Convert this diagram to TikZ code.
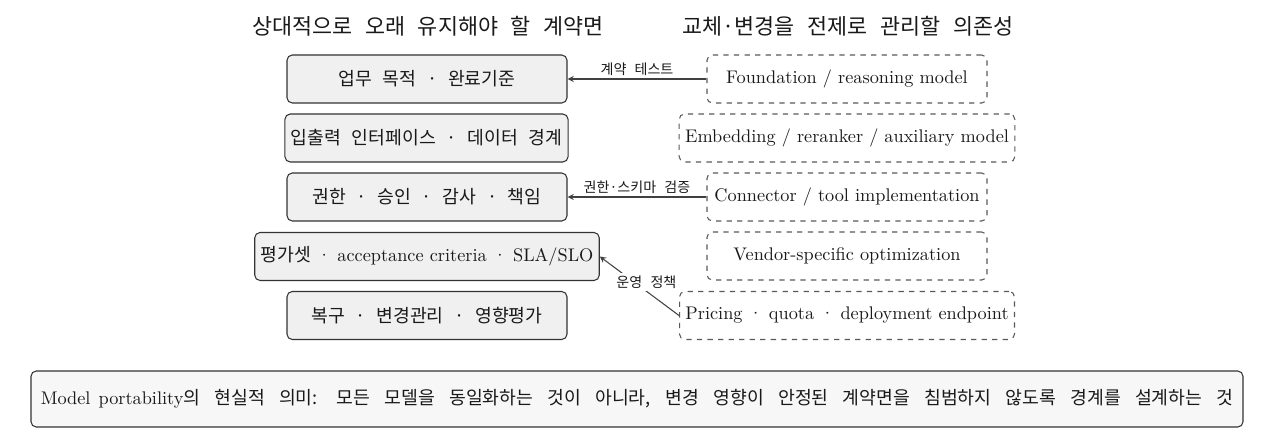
\documentclass[tikz,border=0pt]{standalone}
\usepackage{fontspec}
\newfontfamily\krfont[Scale=1.0,WordSpace=2.6]{Noto Sans CJK KR}
\newcommand{\kr}[1]{{\krfont #1}}
\usetikzlibrary{positioning}

\begin{document}
\begin{tikzpicture}[
    >=stealth,
    text=black!90,
    font=\fontsize{10.4}{12.5}\selectfont,
    stable/.style={draw=black!80, fill=black!6, rounded corners=3pt, minimum width=5.6cm, minimum height=0.96cm, line width=0.6pt},
    swapbox/.style={draw=black!65, dashed, rounded corners=3pt, minimum width=5.6cm, minimum height=0.96cm, line width=0.6pt},
    heading/.style={font=\fontsize{12.4}{15}\selectfont},
    link/.style={->, draw=black!75, line width=0.6pt},
    linklabel/.style={font=\fontsize{8}{9.5}\selectfont, inner sep=1.5pt, fill=white},
    summary/.style={draw=black!80, fill=black!3, rounded corners=3pt, minimum width=24.24cm, minimum height=1.12cm, line width=0.6pt}
  ]
  \useasboundingbox (0,0) rectangle (25.6,-8.78);

  % column headings
  \node[heading] (hdrL) at (8.56, -0.52) {\kr{상대적으로 오래 유지해야 할 계약면}};
  \node[heading] (hdrR) at (16.96, -0.52) {\kr{교체·변경을 전제로 관리할 의존성}};

  % stable contract surfaces
  \node[stable] (goal) at (8.54, -1.58) {\kr{업무 목적 · 완료기준}};
  \node[stable] (io) at (8.53, -2.76) {\kr{입출력 인터페이스 · 데이터 경계}};
  \node[stable] (auth) at (8.54, -3.94) {\kr{권한 · 승인 · 감사 · 책임}};
  \node[stable] (eval) at (8.54, -5.13) {\kr{평가셋} · acceptance criteria · SLA/SLO};
  \node[stable] (recov) at (8.54, -6.31) {\kr{복구 · 변경관리 · 영향평가}};

  % replaceable dependencies
  \node[swapbox] (found) at (16.94, -1.58) {Foundation / reasoning model};
  \node[swapbox] (embed) at (16.94, -2.76) {Embedding / reranker / auxiliary model};
  \node[swapbox] (conn) at (16.94, -3.94) {Connector / tool implementation};
  \node[swapbox] (vendor) at (16.94, -5.12) {Vendor-specific optimization};
  \node[swapbox] (price) at (16.94, -6.31) {Pricing · quota · deployment endpoint};

  \draw[link] (found.west) -- (goal.east)
    node[midway, above, linklabel] {\kr{계약 테스트}};
  \draw[link] (conn.west) -- (auth.east)
    node[midway, above, linklabel] {\kr{권한·스키마 검증}};
  \draw[link] (price.west) -- (eval.east)
    node[midway, above, linklabel, xshift=4pt, yshift=-3pt] {\kr{운영 정책}};

  \node[summary] (note) at (12.74, -7.98)
    {\makebox[23.85cm][s]{Model portability\kr{의 현실적 의미: 모든 모델을 동일화하는 것이 아니라, 변경 영향이 안정된 계약면을 침범하지 않도록 경계를 설계하는 것}}};
\end{tikzpicture}
\end{document}
